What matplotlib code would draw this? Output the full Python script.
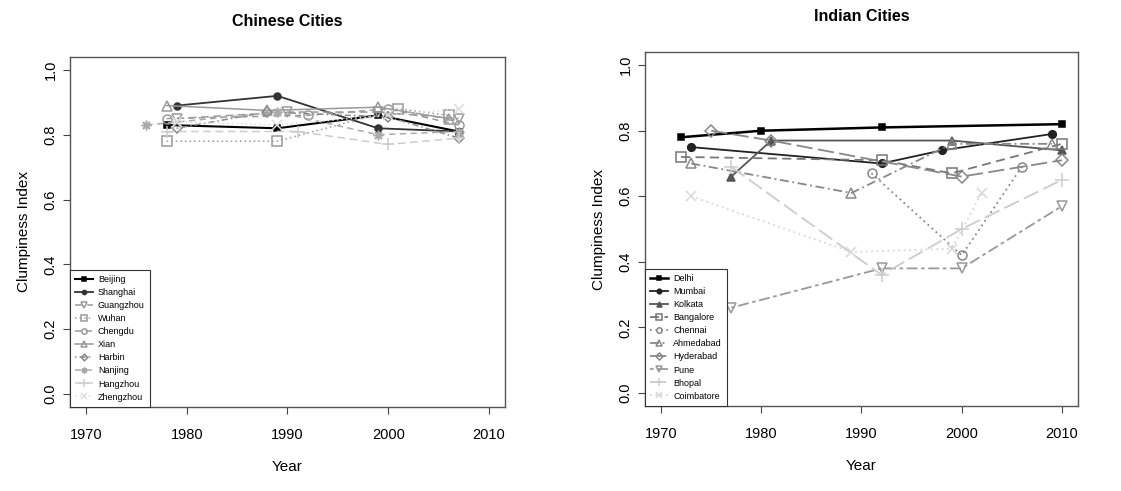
import matplotlib
matplotlib.use("Agg")
import matplotlib.pyplot as plt

plt.rcParams['font.family'] = ['Liberation Sans', 'DejaVu Sans']

# ---- Chinese cities ----
cn_names = ["Beijing", "Shanghai", "Guangzhou", "Wuhan", "Chengdu",
            "Xian", "Harbin", "Nanjing", "Hangzhou", "Zhengzhou"]
cn_years = [
    [1978, 1989, 1999, 2007],
    [1979, 1989, 1999, 2007],
    [1979, 1990, 1999, 2007],
    [1978, 1989, 2001, 2006],
    [1978, 1992, 2000, 2007],
    [1978, 1988, 1999, 2006],
    [1979, 1988, 2000, 2007],
    [1976, 1989, 1999, 2007],
    [1978, 1991, 2000, 2007],
    [1979, 1989, 2000, 2007],
]
cn_values = [
    [0.83, 0.82, 0.86, 0.81],
    [0.89, 0.92, 0.82, 0.81],
    [0.85, 0.87, 0.87, 0.85],
    [0.78, 0.78, 0.88, 0.86],
    [0.85, 0.86, 0.88, 0.83],
    [0.89, 0.875, 0.885, 0.85],
    [0.82, 0.87, 0.855, 0.79],
    [0.83, 0.87, 0.80, 0.81],
    [0.81, 0.81, 0.77, 0.79],
    [0.84, 0.83, 0.86, 0.88],
]

# ---- Indian cities ----
in_names = ["Delhi", "Mumbai", "Kolkata", "Bangalore", "Chennai",
            "Ahmedabad", "Hyderabad", "Pune", "Bhopal", "Coimbatore"]
in_years = [
    [1972, 1980, 1992, 2010],
    [1973, 1992, 1998, 2009],
    [1977, 1981, 1999, 2010],
    [1972, 1992, 1999, 2010],
    [1991, 2000, 2006],
    [1973, 1989, 1999, 2009],
    [1975, 1981, 2000, 2010],
    [1977, 1992, 2000, 2010],
    [1977, 1992, 2000, 2010],
    [1973, 1989, 1999, 2002],
]
in_values = [
    [0.78, 0.80, 0.81, 0.82],
    [0.75, 0.70, 0.74, 0.79],
    [0.66, 0.77, 0.77, 0.74],
    [0.72, 0.71, 0.67, 0.76],
    [0.67, 0.42, 0.69],
    [0.70, 0.61, 0.76, 0.76],
    [0.80, 0.77, 0.66, 0.71],
    [0.26, 0.38, 0.38, 0.57],
    [0.69, 0.36, 0.50, 0.65],
    [0.60, 0.43, 0.44, 0.61],
]

# styles (R-like pch / lty / grey levels)
cn_style = [
    dict(color="#000000", ls="-", marker="s", mfc="#000000", lw=1.5, ms=4.5),
    dict(color="#333333", ls="-", marker="o", mfc="#333333", lw=1.3, ms=5),
    dict(color="#9a9a9a", ls=(0, (5, 3)), marker="v", mfc="none", lw=1.1, ms=6.5),
    dict(color="#9a9a9a", ls=(0, (1, 2)), marker="s", mfc="none", lw=1.1, ms=6.5),
    dict(color="#9a9a9a", ls=(0, (4, 3)), marker="o", mfc="none", lw=1.1, ms=6.5),
    dict(color="#9a9a9a", ls="-", marker="^", mfc="none", lw=1.1, ms=6.5),
    dict(color="#8a8a8a", ls=(0, (1, 2, 4, 2)), marker="D", mfc="none", lw=1.1, ms=5.5),
    dict(color="#aaaaaa", ls=(0, (4, 3)), marker=(8, 2, 0), mfc="none", lw=1.1, ms=7),
    dict(color="#cccccc", ls=(0, (5, 3)), marker="+", mfc="none", lw=1.1, ms=8.5),
    dict(color="#dddddd", ls=(0, (1, 2)), marker="x", mfc="none", lw=1.1, ms=6.5),
]
in_style = [
    dict(color="#000000", ls="-", marker="s", mfc="#000000", lw=1.8, ms=5),
    dict(color="#222222", ls="-", marker="o", mfc="#222222", lw=1.3, ms=5.5),
    dict(color="#555555", ls="-", marker="^", mfc="#555555", lw=1.3, ms=6),
    dict(color="#777777", ls=(0, (5, 3)), marker="s", mfc="none", lw=1.3, ms=6.5),
    dict(color="#888888", ls=(0, (1, 2)), marker="o", mfc="none", lw=1.3, ms=6.5),
    dict(color="#888888", ls=(0, (5, 2, 1, 2)), marker="^", mfc="none", lw=1.3, ms=7),
    dict(color="#888888", ls=(0, (9, 3)), marker="D", mfc="none", lw=1.3, ms=6),
    dict(color="#999999", ls=(0, (2, 2, 6, 2)), marker="v", mfc="none", lw=1.3, ms=7),
    dict(color="#cccccc", ls=(0, (9, 3)), marker="+", mfc="none", lw=1.3, ms=9.5),
    dict(color="#d8d8d8", ls=(0, (1, 2)), marker="x", mfc="none", lw=1.3, ms=7),
]


def draw_panel(ax, title, names, years, values, styles):
    for name, xs, ys, st in zip(names, years, values, styles):
        ax.plot(xs, ys, color=st["color"], ls=st["ls"], lw=st["lw"],
                marker=st["marker"], ms=st["ms"], mfc=st["mfc"],
                mec=st["color"], mew=1.1, label=name)
    ax.set_xlim(1968.4, 2011.6)
    ax.set_ylim(-0.04, 1.04)
    ax.set_xticks([1970, 1980, 1990, 2000, 2010])
    ax.set_yticks([0.0, 0.2, 0.4, 0.6, 0.8, 1.0])
    ax.set_yticklabels(["0.0", "0.2", "0.4", "0.6", "0.8", "1.0"],
                       rotation=90, va="center")
    ax.tick_params(axis="x", length=5, pad=10, labelsize=10.5, color="#444444")
    ax.tick_params(axis="y", length=5, pad=4, labelsize=10.5, color="#444444")
    for sp in ax.spines.values():
        sp.set_color("#555555")
        sp.set_linewidth(1.0)
    ax.set_title(title, fontsize=11.5, fontweight="bold", pad=22)
    ax.set_xlabel("Year", fontsize=11, labelpad=13)
    ax.set_ylabel("Clumpiness Index", fontsize=11, labelpad=9)
    leg = ax.legend(loc="lower left", borderaxespad=0, fontsize=6.5,
                    fancybox=False, edgecolor="#333333", framealpha=1,
                    handlelength=2.0, labelspacing=0.45, borderpad=0.6,
                    handletextpad=0.5, markerscale=0.6)
    leg.get_frame().set_linewidth(0.8)


fig = plt.figure(figsize=(11.21, 4.91), dpi=100)
ax1 = fig.add_axes([0.0624, 0.171, 0.3881, 0.713])
ax2 = fig.add_axes([0.5754, 0.173, 0.3862, 0.721])

draw_panel(ax1, "Chinese Cities", cn_names, cn_years, cn_values, cn_style)
draw_panel(ax2, "Indian Cities", in_names, in_years, in_values, in_style)

fig.savefig("out.png", dpi=100)
